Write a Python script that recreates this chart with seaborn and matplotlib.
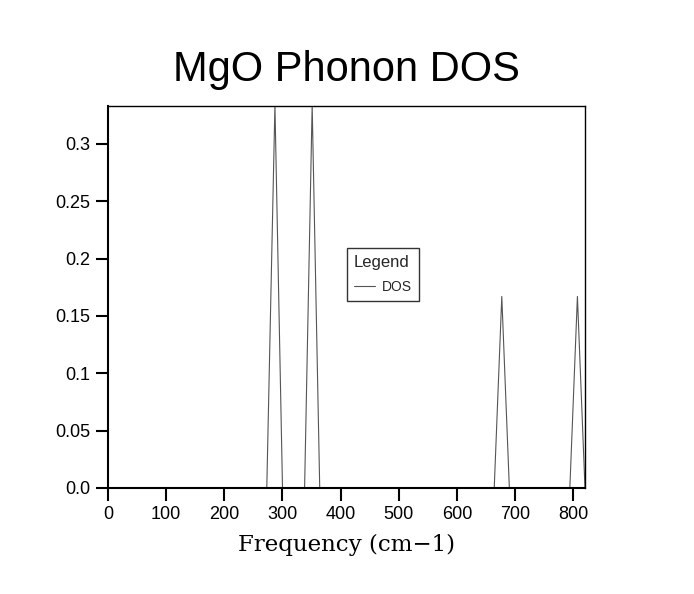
import matplotlib
matplotlib.use("Agg")
import matplotlib.pyplot as plt
import seaborn as sns
import pandas as pd

# Phonon DOS points (cm-1, states)
freq = [0, 273, 287, 300, 338, 351, 364, 664, 677, 690, 794, 807, 820]
dos = [0.0, 0.0, 0.334, 0.0, 0.0, 0.334, 0.0, 0.0, 0.167, 0.0, 0.0, 0.167, 0.0]

xticks = [0, 100, 200, 300, 400, 500, 600, 700, 800]
yticks = [0.0, 0.05, 0.1, 0.15, 0.2, 0.25, 0.3]
ytick_labels = ["0.0", "0.05", "0.1", "0.15", "0.2", "0.25", "0.3"]

df = pd.DataFrame({"Frequency": freq, "DOS": dos})

sns.set_theme(style="white")
plt.rcParams["font.family"] = ["Liberation Sans", "DejaVu Sans"]

fig = plt.figure(figsize=(6.94, 5.94), dpi=100)
ax = fig.add_axes([0.1556, 0.1785, 0.6873, 0.643])

sns.lineplot(data=df, x="Frequency", y="DOS", ax=ax, color="#555555",
             linewidth=0.8, label="DOS", sort=False)

ax.set_xlim(0, 820)
ax.set_ylim(0, 0.333)
ax.set_xticks(xticks)
ax.set_yticks(yticks)
ax.set_yticklabels(ytick_labels)
ax.tick_params(axis="both", direction="out", length=9, width=1.5,
               color="black", labelsize=13, labelcolor="black",
               bottom=True, left=True, pad=4)
for side in ax.spines.values():
    side.set_color("black")
ax.spines["left"].set_linewidth(1.5)
ax.spines["bottom"].set_linewidth(1.5)
ax.spines["top"].set_linewidth(1.0)
ax.spines["right"].set_linewidth(1.0)

ax.set_title("MgO Phonon DOS", fontsize=30, pad=18, color="black")
ax.set_xlabel("Frequency (cm\u22121)", family="DejaVu Serif", fontsize=16.5,
              color="black", labelpad=8)
ax.set_ylabel("")

leg = ax.legend(title="Legend", loc="upper left", bbox_to_anchor=(0.501, 0.628),
                fontsize=10, title_fontsize=12, fancybox=False, frameon=True,
                handlelength=1.5, handletextpad=0.5, borderpad=0.5,
                labelspacing=0.3, borderaxespad=0)
leg._legend_box.align = "left"
leg._legend_box.sep = 7
leg.get_frame().set_edgecolor("black")
leg.get_frame().set_linewidth(1.0)

fig.savefig("out.png", dpi=100)
